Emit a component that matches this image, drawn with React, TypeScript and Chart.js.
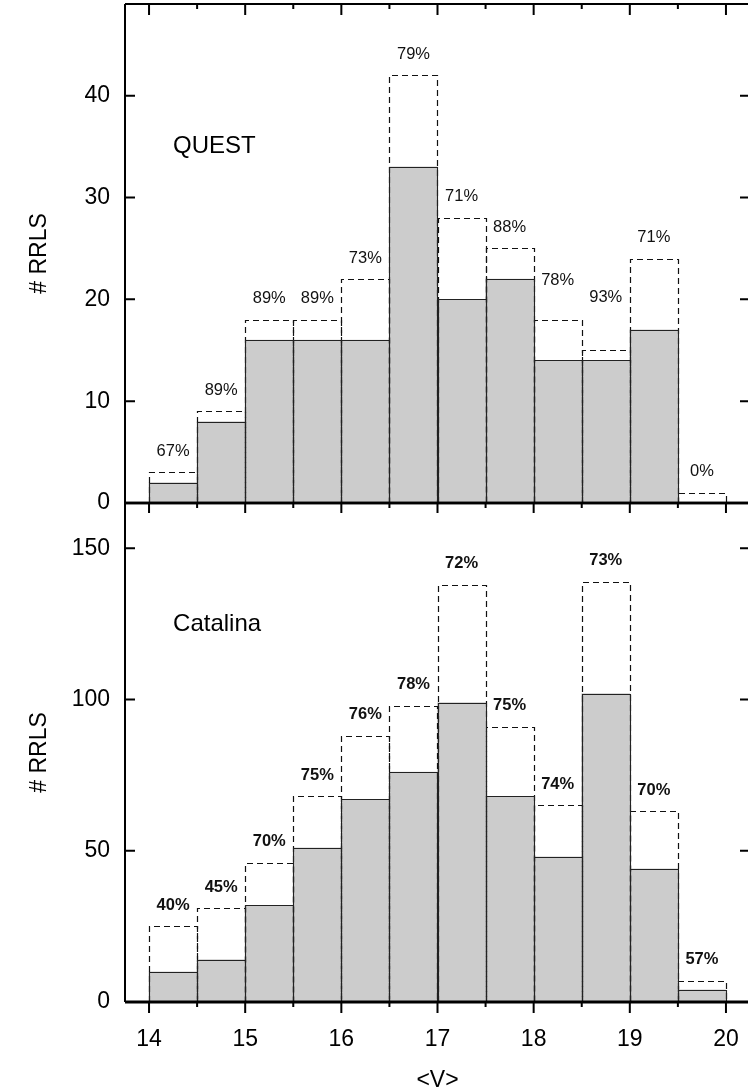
import React, { useEffect, useRef } from "react";
import { Chart, registerables } from "chart.js";

Chart.register(...registerables);

// Histogram bins in <V>, 0.5 mag wide
const BIN_CENTERS = [14.25, 14.75, 15.25, 15.75, 16.25, 16.75, 17.25, 17.75, 18.25, 18.75, 19.25, 19.75];

// QUEST: all stars (dashed outline) and recovered stars (grey bars)
const QUEST_ALL = [3, 9, 18, 18, 22, 42, 28, 25, 18, 15, 24, 1];
const QUEST_KEPT = [2, 8, 16, 16, 16, 33, 20, 22, 14, 14, 17, 0];

// Catalina: all stars (dashed outline) and recovered stars (grey bars)
const CATALINA_ALL = [25, 31, 46, 68, 88, 98, 138, 91, 65, 139, 63, 7];
const CATALINA_KEPT = [10, 14, 32, 51, 67, 76, 99, 68, 48, 102, 44, 4];

// Axis ticks
const X_MAJOR_TICKS = [14, 15, 16, 17, 18, 19, 20];
const X_MINOR_TICKS = [14.5, 15.5, 16.5, 17.5, 18.5, 19.5];
const QUEST_Y_TICKS = [0, 10, 20, 30, 40];
const CATALINA_Y_TICKS = [0, 50, 100, 150];

// A few QUEST percentage labels sit higher than the rest (pixels)
const QUEST_LABEL_LIFT = [0, 0, 0, 0, 0, 0, 0, 0, 18, 32, 0, 0];
const CATALINA_LABEL_LIFT = [0, 0, 0, 0, 0, 0, 0, 0, 0, 0, 0, 0];

const FONT = "'Liberation Sans', Arial, Helvetica, sans-serif";
const X_MIN = 13.75;
const X_MAX = 20.25;
const AXIS_WIDTH = 125;

type PanelConfig = {
  name: string;
  nameAt: [number, number];
  all: number[];
  kept: number[];
  yMax: number;
  yTicks: number[];
  labelWeight: string;
  labelLift: number[];
  bottomAxis: boolean;
  top: number;
  height: number;
  padTop: number;
  padBottom: number;
  xAxisHeight: number;
};

const PANELS: PanelConfig[] = [
  {
    name: "QUEST",
    nameAt: [14.25, 35],
    all: QUEST_ALL,
    kept: QUEST_KEPT,
    yMax: 49,
    yTicks: QUEST_Y_TICKS,
    labelWeight: "normal",
    labelLift: QUEST_LABEL_LIFT,
    bottomAxis: false,
    top: 0,
    height: 515,
    padTop: 4,
    padBottom: 12,
    xAxisHeight: 0,
  },
  {
    name: "Catalina",
    nameAt: [14.25, 125],
    all: CATALINA_ALL,
    kept: CATALINA_KEPT,
    yMax: 165,
    yTicks: CATALINA_Y_TICKS,
    labelWeight: "bold",
    labelLift: CATALINA_LABEL_LIFT,
    bottomAxis: true,
    top: 490,
    height: 602,
    padTop: 13,
    padBottom: 0,
    xAxisHeight: 90,
  },
];

const snap = (v: number) => Math.round(v) + 0.5;

const noMargins = (s: any) => {
  s.paddingTop = 0;
  s.paddingBottom = 0;
  s.paddingLeft = 0;
  s.paddingRight = 0;
};

function makeFramePlugin(cfg: PanelConfig) {
  return {
    id: "histFrame",
    afterDatasetsDraw(chart: any) {
      const { ctx, chartArea: a } = chart;
      const xs = chart.scales.x;
      const ys = chart.scales.y;
      ctx.save();

      // bar outlines: dashed for all stars, solid for recovered ones
      const drawOutlines = (index: number, dash: number[], width: number, color: string) => {
        const meta = chart.getDatasetMeta(index);
        ctx.setLineDash(dash);
        ctx.lineWidth = width;
        ctx.strokeStyle = color;
        meta.data.forEach((bar: any) => {
          const p = bar.getProps(["x", "y", "base", "width"], true);
          if (p.base - p.y < 0.5) return;
          const l = snap(p.x - p.width / 2);
          const r = snap(p.x + p.width / 2);
          const t = snap(p.y);
          const b = Math.round(p.base);
          ctx.beginPath();
          ctx.moveTo(l, b);
          ctx.lineTo(l, t);
          ctx.lineTo(r, t);
          ctx.lineTo(r, b);
          ctx.stroke();
        });
      };
      drawOutlines(1, [6, 4], 1.2, "#111");
      drawOutlines(0, [], 1.1, "#222");
      ctx.setLineDash([]);

      // frame
      ctx.strokeStyle = "#000";
      ctx.lineWidth = 2;
      ctx.beginPath();
      ctx.moveTo(a.left, a.top);
      ctx.lineTo(a.left, a.bottom);
      ctx.moveTo(a.right, a.top);
      ctx.lineTo(a.right, a.bottom);
      ctx.stroke();
      ctx.lineWidth = cfg.bottomAxis ? 2.5 : 2;
      ctx.beginPath();
      ctx.moveTo(a.left, a.top);
      ctx.lineTo(a.right, a.top);
      ctx.stroke();
      ctx.lineWidth = cfg.bottomAxis ? 3 : 2.5;
      ctx.beginPath();
      ctx.moveTo(a.left, a.bottom);
      ctx.lineTo(a.right, a.bottom);
      ctx.stroke();

      // y ticks, pointing inwards on both sides
      ctx.lineWidth = 2;
      ctx.beginPath();
      cfg.yTicks.forEach((v) => {
        const py = ys.getPixelForValue(v);
        ctx.moveTo(a.left, py);
        ctx.lineTo(a.left + 10, py);
        ctx.moveTo(a.right - 10, py);
        ctx.lineTo(a.right, py);
      });
      ctx.stroke();

      // x ticks, all pointing downwards
      const xTicks = (edge: number, major: number, minor: number) => {
        ctx.beginPath();
        X_MAJOR_TICKS.forEach((v) => {
          const px = xs.getPixelForValue(v);
          ctx.moveTo(px, edge);
          ctx.lineTo(px, edge + major);
        });
        X_MINOR_TICKS.forEach((v) => {
          const px = xs.getPixelForValue(v);
          ctx.moveTo(px, edge);
          ctx.lineTo(px, edge + minor);
        });
        ctx.stroke();
      };
      ctx.lineWidth = 2;
      if (cfg.bottomAxis) {
        xTicks(a.top, 10, 5);
        xTicks(a.bottom, 11, 5);
      } else {
        xTicks(a.top, 11, 5);
      }

      // percentage of recovered stars above each bin
      const allMeta = chart.getDatasetMeta(1);
      ctx.fillStyle = "#111";
      ctx.font = `${cfg.labelWeight} 16.5px ${FONT}`;
      ctx.textAlign = "center";
      ctx.textBaseline = "middle";
      allMeta.data.forEach((bar: any, i: number) => {
        const p = bar.getProps(["x", "y"], true);
        const pct = Math.round((100 * cfg.kept[i]) / cfg.all[i]);
        ctx.fillText(`${pct}%`, p.x, p.y - 21 - cfg.labelLift[i]);
      });

      // survey name
      ctx.fillStyle = "#000";
      ctx.font = `24px ${FONT}`;
      ctx.textAlign = "left";
      ctx.fillText(cfg.name, xs.getPixelForValue(cfg.nameAt[0]), ys.getPixelForValue(cfg.nameAt[1]));

      ctx.restore();
    },
  };
}

function Panel({ cfg }: { cfg: PanelConfig }) {
  const ref = useRef<HTMLCanvasElement | null>(null);

  useEffect(() => {
    if (!ref.current) return;
    const chart = new Chart(ref.current, {
      type: "bar",
      data: {
        datasets: [
          {
            label: "recovered",
            data: BIN_CENTERS.map((x, i) => ({ x, y: cfg.kept[i] })),
            backgroundColor: "#cccccc",
            borderWidth: 0,
            grouped: false,
            barPercentage: 1,
            categoryPercentage: 1,
            order: 1,
          },
          {
            label: "all",
            data: BIN_CENTERS.map((x, i) => ({ x, y: cfg.all[i] })),
            backgroundColor: "rgba(0,0,0,0)",
            borderWidth: 0,
            grouped: false,
            barPercentage: 1,
            categoryPercentage: 1,
            order: 2,
          },
        ] as any,
      },
      options: {
        responsive: false,
        animation: false,
        devicePixelRatio: 1,
        events: [],
        layout: { padding: { top: cfg.padTop, right: 10, bottom: cfg.padBottom, left: 0 } },
        plugins: { legend: { display: false }, tooltip: { enabled: false } },
        scales: {
          x: {
            type: "linear",
            min: X_MIN,
            max: X_MAX,
            offset: false,
            display: cfg.bottomAxis,
            afterBuildTicks: (s: any) => {
              s.ticks = X_MAJOR_TICKS.map((value) => ({ value }));
            },
            afterFit: (s: any) => {
              s.height = cfg.xAxisHeight;
              noMargins(s);
            },
            grid: { display: false, drawTicks: false },
            border: { display: false },
            ticks: {
              autoSkip: false,
              maxRotation: 0,
              padding: 24,
              color: "#000",
              font: { family: FONT, size: 23 },
            },
            title: {
              display: true,
              text: "<V>",
              color: "#000",
              font: { family: FONT, size: 23, lineHeight: 1 },
              padding: { top: 0, bottom: 0 },
            },
          },
          y: {
            type: "linear",
            min: 0,
            max: cfg.yMax,
            afterBuildTicks: (s: any) => {
              s.ticks = cfg.yTicks.map((value) => ({ value }));
            },
            afterFit: (s: any) => {
              s.width = AXIS_WIDTH;
              noMargins(s);
            },
            grid: { display: false, drawTicks: false },
            border: { display: false },
            ticks: {
              autoSkip: false,
              padding: 15,
              color: "#000",
              font: { family: FONT, size: 23 },
            },
            title: {
              display: true,
              text: "# RRLS",
              color: "#000",
              font: { family: FONT, size: 23, lineHeight: 1 },
              padding: { top: 28.5, bottom: 0 },
            },
          },
        },
      } as any,
      plugins: [makeFramePlugin(cfg)],
    });
    return () => chart.destroy();
  }, [cfg]);

  return (
    <canvas
      ref={ref}
      width={760}
      height={cfg.height}
      style={{ position: "absolute", left: 0, top: cfg.top, width: 760, height: cfg.height }}
    />
  );
}

export default function App() {
  return (
    <div
      style={{
        position: "absolute",
        left: 0,
        top: 0,
        width: 748,
        height: 1088,
        overflow: "hidden",
        background: "#fff",
      }}
    >
      {PANELS.map((cfg) => (
        <Panel key={cfg.name} cfg={cfg} />
      ))}
    </div>
  );
}
